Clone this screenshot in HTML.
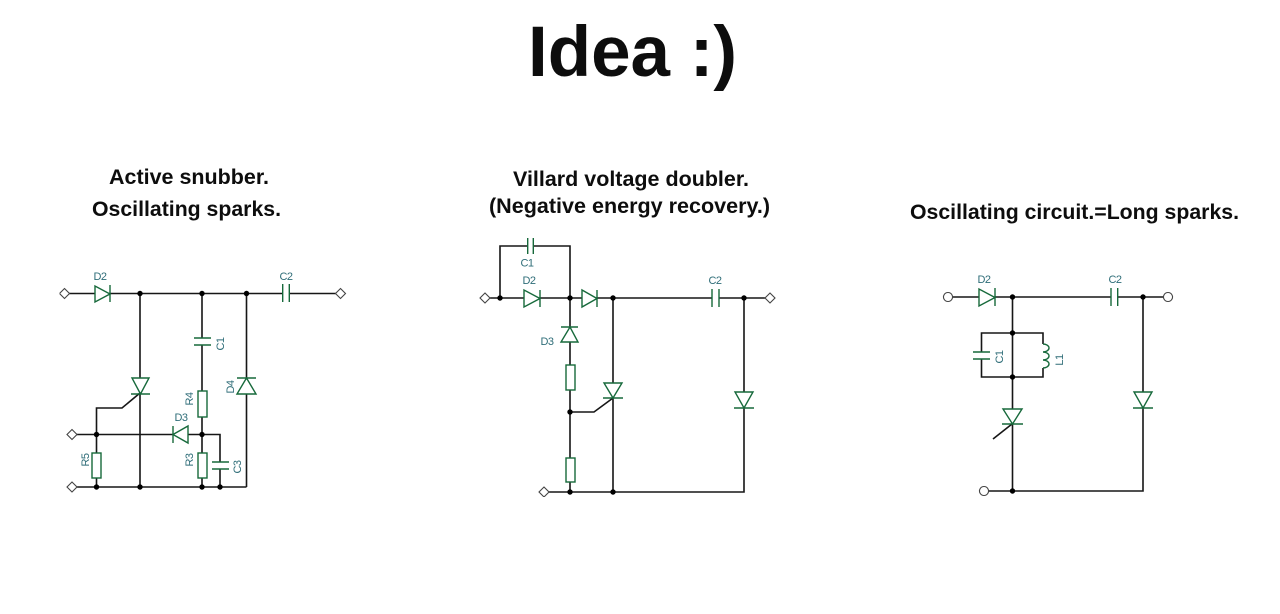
<!DOCTYPE html>
<html><head><meta charset="utf-8"><style>
html,body{margin:0;padding:0;background:#fff}
svg{display:block}
.t{font-family:"Liberation Sans",sans-serif;font-weight:bold;fill:#0c0c0c}
.l{font-family:"Liberation Sans",sans-serif;font-size:11px;letter-spacing:-0.5px;fill:#2f6d78}
.w{fill:none;stroke:#161616;stroke-width:1.6}
.g{fill:none;stroke:#17693a;stroke-width:1.4}
.o{fill:#fff;stroke:#444;stroke-width:1.1}
.n{fill:#000}
</style></head><body>
<svg width="1280" height="614" viewBox="0 0 1280 614" xmlns="http://www.w3.org/2000/svg">
<defs><filter id="b" x="0" y="0" width="100%" height="100%"><feGaussianBlur stdDeviation="0.35"/></filter></defs>
<rect width="1280" height="614" fill="#fff"/>
<g filter="url(#b)">
<text class="t" x="528" y="76" font-size="71" textLength="209" lengthAdjust="spacingAndGlyphs">Idea :)</text>
<text class="t" x="109" y="184" font-size="21" textLength="160" lengthAdjust="spacingAndGlyphs">Active snubber.</text>
<text class="t" x="92" y="216" font-size="21" textLength="189" lengthAdjust="spacingAndGlyphs">Oscillating sparks.</text>
<text class="t" x="513" y="186" font-size="21" textLength="236" lengthAdjust="spacingAndGlyphs">Villard voltage doubler.</text>
<text class="t" x="489" y="213" font-size="21" textLength="281" lengthAdjust="spacingAndGlyphs">(Negative energy recovery.)</text>
<text class="t" x="910" y="219" font-size="21" textLength="329" lengthAdjust="spacingAndGlyphs">Oscillating circuit.=Long sparks.</text>

<!-- Circuit 1 -->
<path class="w" d="M69 293.5H95M110 293.5H283M289 293.5H336M140 293.5V378M140 394V487M202 293.5V338M202 345V391M202 417V453M202 478V487M246.5 293.5V378M246.5 394V487M77 434.5H173M188 434.5H220V462M220 469V487M77 487H246.5M96.5 434.5V453M96.5 478V487M96.5 434.5V408H122L140 393"/>
<path class="g" d="M95 286V302L110 294ZM110 285V302M282.7 284V302M289.3 284V302M194 338H211M194 345H211M132 378H149L140.5 394ZM131 394H150M237 394H256L246.5 378ZM237 378H256M188 426V443L173 434.500ZM173 426V443"/>
<rect class="g" x="198" y="391" width="9" height="26"/>
<rect class="g" x="198" y="453" width="9" height="25"/>
<rect class="g" x="92" y="453" width="9" height="25"/>
<path class="g" d="M212 462H229M212 469H229"/>
<path class="o" d="M64.500 288.500l5 5-5 5-5-5zM340.500 288.500l5 5-5 5-5-5zM72 429.500l5 5-5 5-5-5zM72 482l5 5-5 5-5-5z"/>
<g class="n"><circle cx="140" cy="293.500" r="2.700"/><circle cx="202" cy="293.500" r="2.700"/><circle cx="246.500" cy="293.500" r="2.700"/><circle cx="96.500" cy="434.500" r="2.700"/><circle cx="202" cy="434.500" r="2.700"/><circle cx="96.500" cy="487" r="2.700"/><circle cx="140" cy="487" r="2.700"/><circle cx="202" cy="487" r="2.700"/><circle cx="220" cy="487" r="2.700"/></g>
<text class="l" x="100" y="280" text-anchor="middle">D2</text>
<text class="l" x="286" y="280" text-anchor="middle">C2</text>
<text class="l" x="181" y="421" text-anchor="middle">D3</text>
<text class="l" transform="translate(224,344) rotate(-90)" text-anchor="middle">C1</text>
<text class="l" transform="translate(193,399) rotate(-90)" text-anchor="middle">R4</text>
<text class="l" transform="translate(234,387) rotate(-90)" text-anchor="middle">D4</text>
<text class="l" transform="translate(193,460) rotate(-90)" text-anchor="middle">R3</text>
<text class="l" transform="translate(241,467) rotate(-90)" text-anchor="middle">C3</text>
<text class="l" transform="translate(89,460) rotate(-90)" text-anchor="middle">R5</text>

<!-- Circuit 2 -->
<path class="w" d="M490 298H524M540 298H582M597 298H712M719 298H765M500 298V246H527.700M533.300 246H570V327M570 342V365M570 390V458M570 482V492M613 298V383M613 398V492M744 298V392M744 408V492H549M570 412H594L613 398"/>
<path class="g" d="M524 290V307L540 298.500ZM540 290V307M582 290V307L597 298.500ZM597 290V307M527.700 238V254M533.300 238V254M712 289V307M719 289V307M561 342H578L570 327ZM561 327H578M604 383H622L613 398ZM603 398H623M735 392H753L744 408ZM734 408H754"/>
<rect class="g" x="566" y="365" width="9" height="25"/>
<rect class="g" x="566" y="458" width="9" height="24"/>
<path class="o" d="M485 293l5 5-5 5-5-5zM770 293l5 5-5 5-5-5zM544 487l5 5-5 5-5-5z"/>
<g class="n"><circle cx="500" cy="298" r="2.700"/><circle cx="570" cy="298" r="2.700"/><circle cx="613" cy="298" r="2.700"/><circle cx="744" cy="298" r="2.700"/><circle cx="570" cy="412" r="2.700"/><circle cx="570" cy="492" r="2.700"/><circle cx="613" cy="492" r="2.700"/></g>
<text class="l" x="527" y="266.500" text-anchor="middle">C1</text>
<text class="l" x="529" y="284" text-anchor="middle">D2</text>
<text class="l" x="715" y="284" text-anchor="middle">C2</text>
<text class="l" x="547" y="345" text-anchor="middle">D3</text>

<!-- Circuit 3 -->
<path class="w" d="M952 297H979M995 297H1111M1118 297H1164M1012.500 297V409M1012.500 424V491H988M981.500 352V333H1043V344M1043 368V377H981.500V359M1143 297V392M1143 408V491H1012.500M1012 424L993 439"/>
<path class="g" d="M979 289V306L995 297.500ZM995 288V306M1111 288V306M1117.700 288V306M973 352H990M973 359H990M1003 409H1022L1012.500 424ZM1002 424H1023M1134 392H1152L1143 408ZM1133 408H1153M1043 344a6 4 0 0 1 0 8a6 4 0 0 1 0 8a6 4 0 0 1 0 8"/>
<path class="o" d="M948 292.500a4.500 4.500 0 1 0 0.010 0zM1168 292.500a4.500 4.500 0 1 0 0.010 0zM984 486.500a4.500 4.500 0 1 0 0.010 0z"/>
<g class="n"><circle cx="1012.500" cy="297" r="2.700"/><circle cx="1143" cy="297" r="2.700"/><circle cx="1012.500" cy="333" r="2.700"/><circle cx="1012.500" cy="377" r="2.700"/><circle cx="1012.500" cy="491" r="2.700"/></g>
<text class="l" x="984" y="283" text-anchor="middle">D2</text>
<text class="l" x="1115" y="283" text-anchor="middle">C2</text>
<text class="l" transform="translate(1003,357) rotate(-90)" text-anchor="middle">C1</text>
<text class="l" transform="translate(1063,360) rotate(-90)" text-anchor="middle">L1</text>
</g>
</svg>
</body></html>
